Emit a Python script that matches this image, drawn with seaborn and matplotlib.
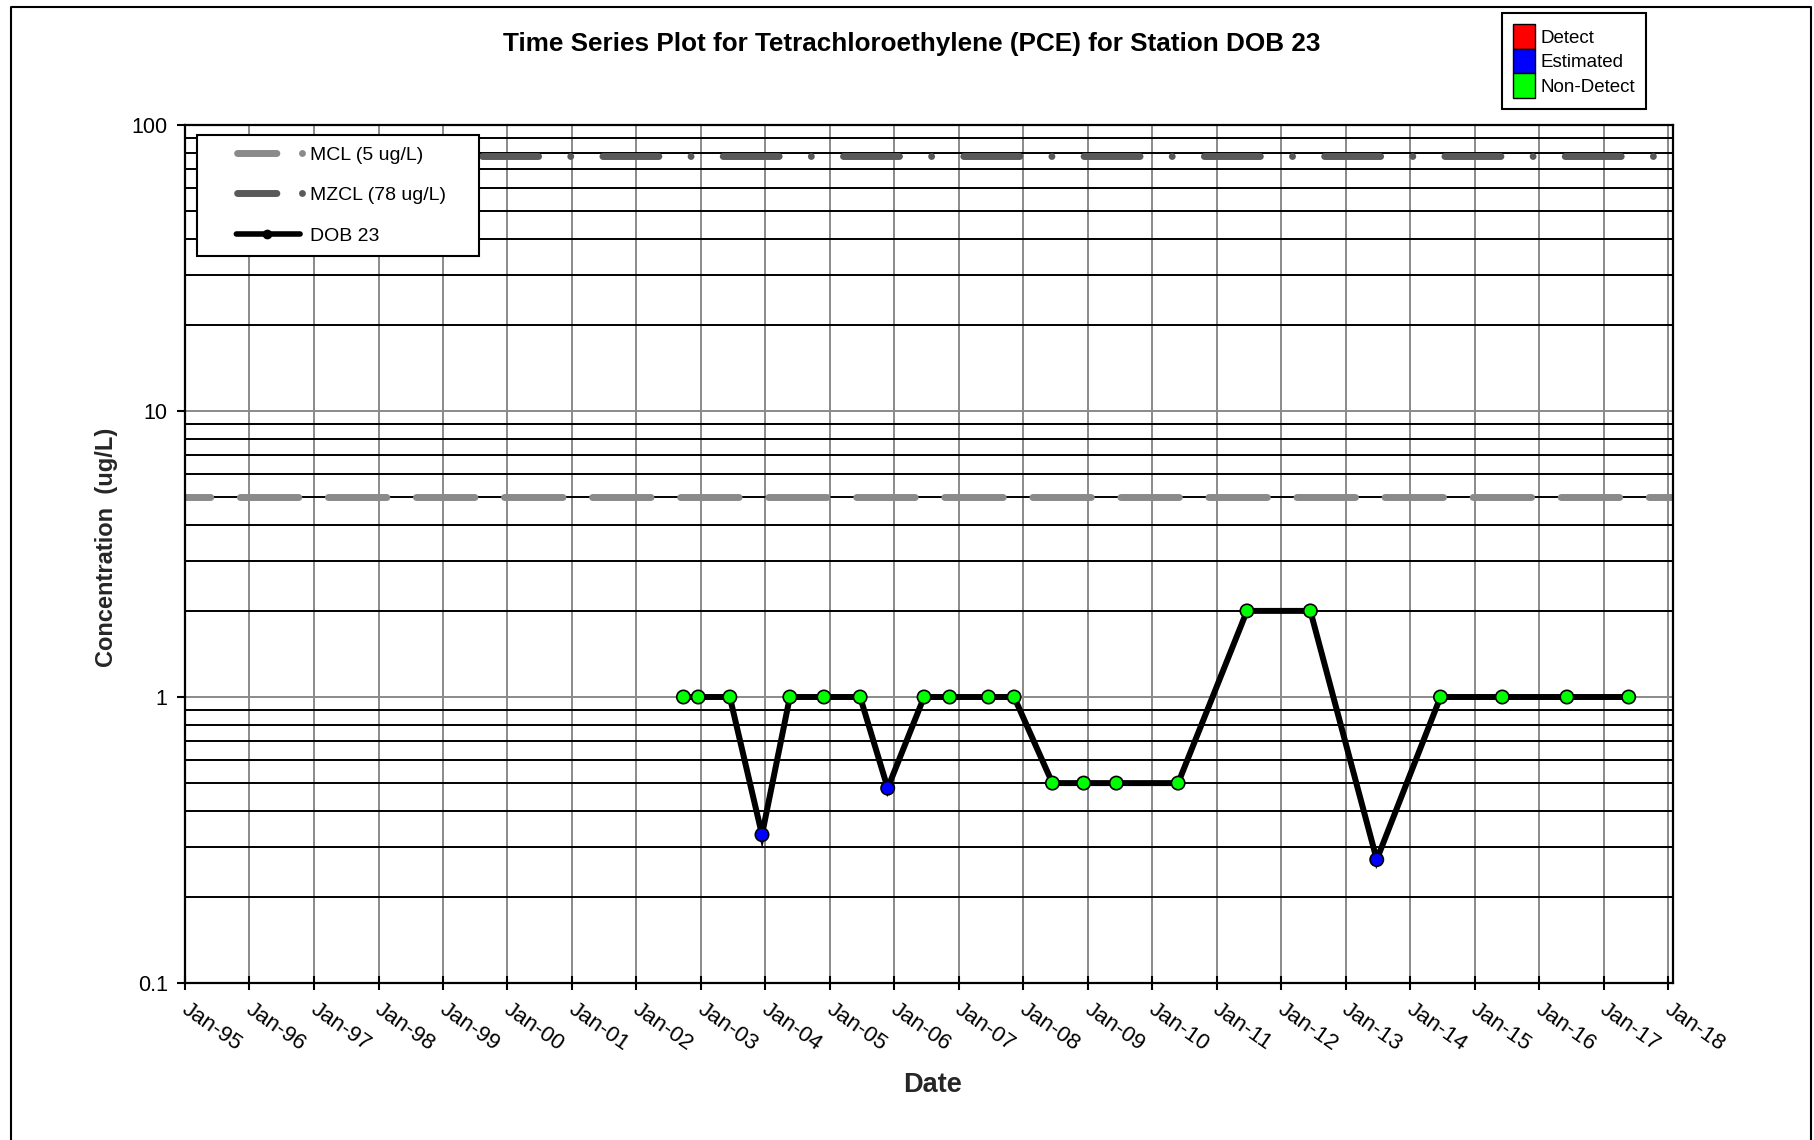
import numpy as np
import pandas as pd
import matplotlib
matplotlib.use('Agg')
import matplotlib.pyplot as plt
import matplotlib.dates as mdates
import matplotlib.ticker as mticker
from matplotlib.lines import Line2D
from matplotlib.patches import Patch
from matplotlib.transforms import ScaledTranslation
import seaborn as sns

# ---------------- data ----------------
sample_dates = ['2002-09-24', '2002-12-17', '2003-06-14', '2003-12-13', '2004-05-19',
                '2004-11-28', '2005-06-21', '2005-11-24', '2006-06-18', '2006-11-10',
                '2007-06-18', '2007-11-10', '2008-06-14', '2008-12-08', '2009-06-11',
                '2010-05-27', '2011-06-21', '2012-06-14', '2013-06-25', '2014-06-21',
                '2015-06-06', '2016-06-06', '2017-05-22']
pce_values = [1, 1, 1, 0.33, 1,
              1, 1, 0.48, 1, 1,
              1, 1, 0.5, 0.5, 0.5,
              0.5, 2, 2, 0.27, 1,
              1, 1, 1]
qualifiers = ['Non-Detect', 'Non-Detect', 'Non-Detect', 'Estimated', 'Non-Detect',
              'Non-Detect', 'Non-Detect', 'Estimated', 'Non-Detect', 'Non-Detect',
              'Non-Detect', 'Non-Detect', 'Non-Detect', 'Non-Detect', 'Non-Detect',
              'Non-Detect', 'Non-Detect', 'Non-Detect', 'Estimated', 'Non-Detect',
              'Non-Detect', 'Non-Detect', 'Non-Detect']
mcl_value = 5
mzcl_value = 78
x_start = '1995-01-01'
x_end = '2018-01-28'
y_ticks = [0.1, 1, 10, 100]
y_tick_labels = ['0.1', '1', '10', '100']
flag_categories = ['Detect', 'Estimated', 'Non-Detect']
flag_colors = ['#FF0000', '#0000FF', '#00FF00']
station = 'DOB 23'
title_text = 'Time Series Plot for Tetrachloroethylene (PCE) for Station DOB 23'
mcl_label = 'MCL (5 ug/L)'
mzcl_label = 'MZCL (78 ug/L)'

# ---------------- style ----------------
sns.set_style('ticks')
plt.rcParams['font.family'] = ['Liberation Sans', 'DejaVu Sans']
plt.rcParams['lines.scale_dashes'] = False
plt.rcParams['axes.edgecolor'] = 'black'
plt.rcParams['xtick.color'] = 'black'
plt.rcParams['ytick.color'] = 'black'
plt.rcParams['text.color'] = 'black'

df = pd.DataFrame({'Date': pd.to_datetime(sample_dates),
                   'Concentration': pce_values,
                   'Qualifier': qualifiers})

W, H = 1814, 1140
fig = plt.figure(figsize=(W / 100, H / 100), dpi=100)
ax = fig.add_axes([185 / W, (H - 983) / H, 1488 / W, 858 / H])
ax.set_yscale('log')

grid_gray = '#8a8a8a'
mcl_color = '#8a8a8a'
mzcl_color = '#595959'

# reference lines
ax.axhline(mcl_value, color=mcl_color, lw=5, linestyle=(23.9, (42.1, 21.3)),
           dash_capstyle='round', zorder=2)
ax.axhline(mzcl_value, color=mzcl_color, lw=5,
           linestyle=(45.9, (40.3, 23.15, 0.01, 23.15)),
           dash_capstyle='round', zorder=2)

# data line + markers
sns.lineplot(data=df, x='Date', y='Concentration', color='black', lw=4.3,
             ax=ax, legend=False, zorder=3, solid_capstyle='round', solid_joinstyle='miter')
sns.scatterplot(data=df, x='Date', y='Concentration', hue='Qualifier',
                palette=dict(zip(flag_categories, flag_colors)), s=92,
                edgecolor='black', linewidth=1.2, legend=False, ax=ax, zorder=4)

ax.set_ylim(y_ticks[0], y_ticks[-1])
ax.set_xlim(mdates.date2num(pd.Timestamp(x_start)), mdates.date2num(pd.Timestamp(x_end)))

# ticks
ax.yaxis.set_major_locator(mticker.FixedLocator(y_ticks))
ax.yaxis.set_major_formatter(mticker.FixedFormatter(y_tick_labels))
ax.yaxis.set_minor_locator(mticker.LogLocator(base=10, subs=np.arange(2, 10)))
ax.yaxis.set_minor_formatter(mticker.NullFormatter())
ax.xaxis.set_major_locator(mdates.YearLocator(1, month=1, day=1))
ax.xaxis.set_major_formatter(mdates.DateFormatter('%b-%y'))

ax.tick_params(axis='y', which='major', direction='out', length=6, width=1.5,
               labelsize=15.5, pad=6.5)
ax.tick_params(axis='y', which='minor', length=0)
ax.tick_params(axis='x', which='major', direction='inout', length=9.5, width=1.5,
               labelsize=16, pad=7)

# grid
ax.set_axisbelow(True)
ax.grid(True, which='major', axis='both', color=grid_gray, lw=1.4)
ax.grid(True, which='minor', axis='y', color='black', lw=1.4)
for s in ax.spines.values():
    s.set_visible(True)
    s.set_color('black')
    s.set_linewidth(1.6)

# x tick labels rotation and shift
for lbl in ax.get_xticklabels():
    lbl.set_rotation(-35)
    lbl.set_ha('left')
    lbl.set_va('top')
    lbl.set_rotation_mode('anchor')
    lbl.set_transform(lbl.get_transform() + ScaledTranslation(0.045, 0, fig.dpi_scale_trans))

# axis labels
ax.set_xlabel('Date', fontsize=19.5, fontweight='bold', va='center')
ax.xaxis.set_label_coords(0.5024, (983 - 1085) / 858)
ax.set_ylabel('Concentration  (ug/L)', fontsize=17, fontweight='bold', va='center')
ax.yaxis.set_label_coords((106 - 185) / 1488, (983 - 547) / 858)

# title
fig.text(912 / W, 1 - 44.5 / H, title_text, ha='center', va='center',
         fontsize=18.8, fontweight='bold')

# legend 1 (reference lines + series)
P = 120.0
lead_dash = 20.95
h_mcl = Line2D([0], [0], color=mcl_color, lw=5, dash_capstyle='round',
               linestyle=(P - lead_dash, (28.3, 18.4, 0.01, P - 28.3 - 18.4 - 0.01)))
h_mzcl = Line2D([0], [0], color=mzcl_color, lw=5, dash_capstyle='round',
                linestyle=(P - lead_dash, (28.3, 18.4, 0.01, P - 28.3 - 18.4 - 0.01)))
h_dob = Line2D([0], [0], color='black', lw=4, dash_capstyle='round',
               linestyle=(P - 20.4, (45.9, P - 45.9)),
               marker='o', markersize=6, markerfacecolor='black', markeredgecolor='black')
leg1 = ax.legend([h_mcl, h_mzcl, h_dob], [mcl_label, mzcl_label, station],
                 loc='upper left',
                 bbox_to_anchor=(12 / 1488, 0.5, 282 / 1488, (983 - 135) / 858 - 0.5),
                 mode='expand', borderaxespad=0, borderpad=0.57, labelspacing=1.18,
                 handlelength=6.07, handletextpad=-0.82, fontsize=14,
                 frameon=True, fancybox=False, shadow=False, framealpha=1,
                 edgecolor='black')
leg1.get_frame().set_linewidth(1.5)
leg1.set_zorder(10)

# legend 2 (qualifier colours)
patches = [Patch(facecolor=c, edgecolor='black', linewidth=1.0) for c in flag_colors]
leg2 = fig.legend(patches, flag_categories, loc='upper left',
                  bbox_to_anchor=(1502 / W, 1 - 13 / H), bbox_transform=fig.transFigure,
                  borderaxespad=0, borderpad=0.6, labelspacing=0.0,
                  handlelength=1.18, handleheight=1.63, handletextpad=0.26,
                  fontsize=13.5, frameon=True, fancybox=False, shadow=False,
                  framealpha=1, edgecolor='black')
leg2.get_frame().set_linewidth(1.5)

# figure border
fig.add_artist(Line2D([11 / W, 11 / W, 1811 / W, 1811 / W],
                      [0, 1 - 7 / H, 1 - 7 / H, 0],
                      transform=fig.transFigure, color='black', lw=1.5))

fig.savefig('out.png', dpi=100)
